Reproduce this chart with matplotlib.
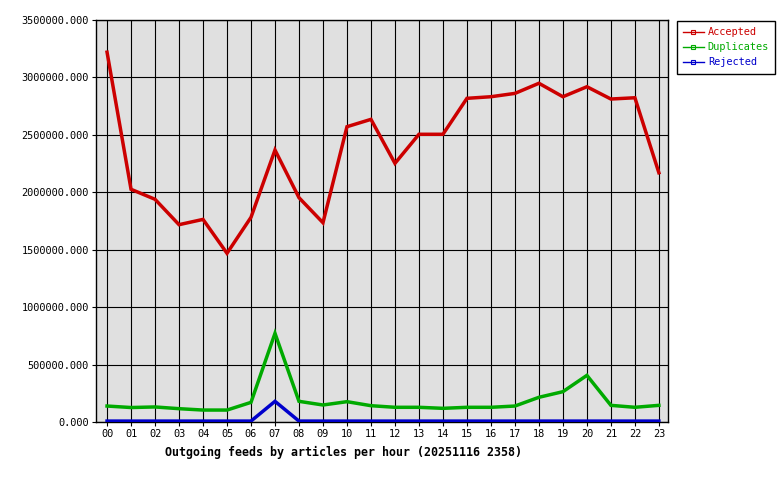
import matplotlib
matplotlib.use('Agg')
import matplotlib.pyplot as plt
from matplotlib.lines import Line2D
import numpy as np

hours = ['00','01','02','03','04','05','06','07','08','09','10','11',
         '12','13','14','15','16','17','18','19','20','21','22','23']
accepted = [3220000, 2026000, 1939000, 1718000, 1764000, 1469000, 1782000, 2368000,
            1953000, 1735000, 2571000, 2635000, 2252000, 2505000, 2505000, 2818000,
            2832000, 2861000, 2949000, 2832000, 2919000, 2812000, 2823000, 2170000]
duplicates = [139000, 126000, 131000, 116000, 104000, 104000, 171000, 772000,
              180000, 148000, 177000, 142000, 128000, 128000, 119000, 128000,
              128000, 139000, 215000, 264000, 406000, 145000, 128000, 145000]
rejected = [8000, 8000, 8000, 8000, 8000, 8000, 8000, 180000,
            8000, 8000, 8000, 8000, 8000, 8000, 8000, 8000,
            8000, 8000, 8000, 8000, 8000, 8000, 8000, 8000]
series = ['Accepted', 'Duplicates', 'Rejected']
colors = ['#cc0000', '#00aa00', '#0000cc']
title = 'Outgoing feeds by articles per hour (20251116 2358)'

font = 'DejaVu Sans Mono'
fs = 7.4

fig = plt.figure(figsize=(7.8, 4.8), dpi=100)
ax = fig.add_axes([96/780, 58/480, 572/780, 402/480])
ax.set_facecolor('#e0e0e0')

x = np.arange(len(hours))
for vals, c in zip([accepted, duplicates, rejected], colors):
    ax.plot(x, vals, color=c, lw=2.5, solid_joinstyle='miter', zorder=3)

ax.set_xlim(-0.46, 23.38)
ax.set_ylim(0, 3500000)
ax.set_xticks(x)
ax.set_xticklabels(hours)
ax.set_yticks(np.arange(0, 3500001, 500000))
ax.set_yticklabels(['%.3f' % v for v in np.arange(0, 3500001, 500000)])
ax.grid(True, color='black', lw=0.8)
ax.set_axisbelow(True)
for sp in ax.spines.values():
    sp.set_color('black')
    sp.set_linewidth(1.0)
ax.tick_params(direction='out', length=3, width=0.8, colors='black', pad=2)
for lab in ax.get_xticklabels() + ax.get_yticklabels():
    lab.set_fontfamily(font)
    lab.set_fontsize(fs)

fig.text(165/780, 1 - 452/480, title, ha='left', va='center',
         fontfamily=font, fontsize=8.4, fontweight='bold')

handles = [Line2D([], [], color=c, lw=1, marker='s', ms=3, mfc='none', mew=0.8)
           for c in colors]
leg = fig.legend(handles, series, loc='upper left',
                 bbox_to_anchor=(677/780, 1 - 21/480), frameon=True,
                 fancybox=False, edgecolor='black', framealpha=1,
                 prop={'family': font, 'size': fs}, handlelength=2,
                 handletextpad=0.4, borderpad=0.6, labelspacing=0.5,
                 borderaxespad=0, numpoints=1)
leg.get_frame().set_linewidth(1)
for t, c in zip(leg.get_texts(), colors):
    t.set_color(c)

fig.savefig('out.png', dpi=100)
